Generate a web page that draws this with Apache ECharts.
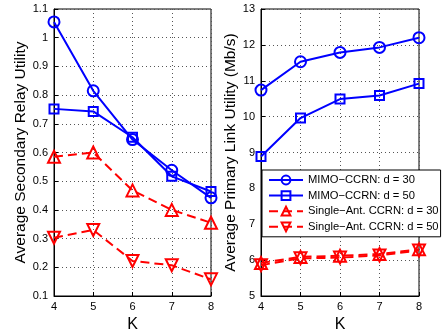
<!DOCTYPE html>
<html><head><meta charset="utf-8">
<script src="https://cdn.jsdelivr.net/npm/echarts@6/dist/echarts.min.js"></script>
<style>html,body{margin:0;padding:0;background:#fff}#c{width:445px;height:333px}</style>
</head><body><div id="c"></div>
<script>
const K = [4, 5, 6, 7, 8];
const seriesNames = ['MIMO\u2212CCRN: d = 30', 'MIMO\u2212CCRN: d = 50', 'Single\u2212Ant. CCRN: d = 30', 'Single\u2212Ant. CCRN: d = 50'];
// Left: Average Secondary Relay Utility
const relayMimo30 = [1.055, 0.815, 0.645, 0.538, 0.442];
const relayMimo50 = [0.752, 0.743, 0.653, 0.517, 0.464];
const relaySingle30 = [0.585, 0.600, 0.468, 0.400, 0.355];
const relaySingle50 = [0.303, 0.330, 0.222, 0.207, 0.158];
// Right: Average Primary Link Utility (Mb/s)
const primMimo30 = [10.74, 11.53, 11.79, 11.93, 12.20];
const primMimo50 = [8.89, 9.96, 10.49, 10.59, 10.92];
const primSingle30 = [5.92, 6.09, 6.12, 6.17, 6.30];
const primSingle50 = [5.86, 6.05, 6.07, 6.13, 6.27];

const pairs = v => K.map((k, i) => [k, v[i]]);
const FONT = 'Liberation Sans';
const styles = [
  {color: '#0000ff', symbol: 'circle', size: 11, rot: 0, dash: 'solid'},
  {color: '#0000ff', symbol: 'rect', size: 9, rot: 0, dash: 'solid'},
  {color: '#ff0000', symbol: 'triangle', size: 12, rot: 0, dash: [9, 5]},
  {color: '#ff0000', symbol: 'triangle', size: 12, rot: 180, dash: [9, 5]}
];
function mk(i, data, idx) {
  const s = styles[i];
  return {
    name: seriesNames[i], type: 'line', xAxisIndex: idx, yAxisIndex: idx,
    data: pairs(data), symbol: s.symbol, symbolSize: s.size, symbolRotate: s.rot,
    showAllSymbol: true, animation: false,
    lineStyle: {color: s.color, width: 2, type: s.dash},
    itemStyle: {color: 'rgba(255,255,255,0)', borderColor: s.color, borderWidth: 2}
  };
}
function xAx(idx) {
  return {
    type: 'value', gridIndex: idx, min: 4, max: 8, interval: 1,
    name: 'K', nameLocation: 'middle', nameGap: 21,
    nameTextStyle: {fontFamily: FONT, fontSize: 16, color: '#000'},
    axisLine: {show: true, lineStyle: {color: '#000', width: 1}},
    axisTick: {show: true, inside: true, length: 4, lineStyle: {color: '#000'}},
    axisLabel: {fontFamily: FONT, fontSize: 11, color: '#000', margin: 5},
    splitLine: {show: true, lineStyle: {color: '#555', type: [1, 3], width: 1}}
  };
}
function yAx(idx, min, max, interval, name, gap) {
  return {
    type: 'value', gridIndex: idx, min: min, max: max, interval: interval,
    name: name, nameLocation: 'middle', nameGap: gap,
    nameTextStyle: {fontFamily: FONT, fontSize: 15.5, color: '#000'},
    axisLine: {show: true, lineStyle: {color: '#000', width: 1}},
    axisTick: {show: true, inside: true, length: 4, lineStyle: {color: '#000'}},
    axisLabel: {fontFamily: FONT, fontSize: 11, color: '#000', margin: 6},
    splitLine: {show: true, lineStyle: {color: '#555', type: [1, 3], width: 1}}
  };
}
const chart = echarts.init(document.getElementById('c'), null, {renderer: 'canvas'});
chart.setOption({
  animation: false,
  backgroundColor: '#fff',
  grid: [
    {left: 54, top: 9, width: 157, height: 287, outerBoundsMode: 'none', containLabel: false, show: true, borderColor: '#000', borderWidth: 1, backgroundColor: 'transparent'},
    {left: 261, top: 9, width: 158, height: 287, outerBoundsMode: 'none', containLabel: false, show: true, borderColor: '#000', borderWidth: 1, backgroundColor: 'transparent'}
  ],
  xAxis: [xAx(0), xAx(1)],
  yAxis: [
    yAx(0, 0.1, 1.1, 0.1, 'Average Secondary Relay Utility', 25),
    yAx(1, 5, 13, 1, 'Average Primary Link Utility (Mb/s)', 21)
  ],
  legend: {
    data: seriesNames, orient: 'vertical', left: 262, top: 170,
    backgroundColor: '#fff', borderColor: '#000', borderWidth: 1,
    padding: [4.5, 2, 4.5, 6], itemGap: 4.6, itemWidth: 34, itemHeight: 11,
    textStyle: {fontFamily: FONT, fontSize: 11.2, color: '#000'},
    selectedMode: false
  },
  series: [
    mk(0, relayMimo30, 0), mk(1, relayMimo50, 0), mk(2, relaySingle30, 0), mk(3, relaySingle50, 0),
    mk(0, primMimo30, 1), mk(1, primMimo50, 1), mk(2, primSingle30, 1), mk(3, primSingle50, 1)
  ]
});
</script></body></html>
